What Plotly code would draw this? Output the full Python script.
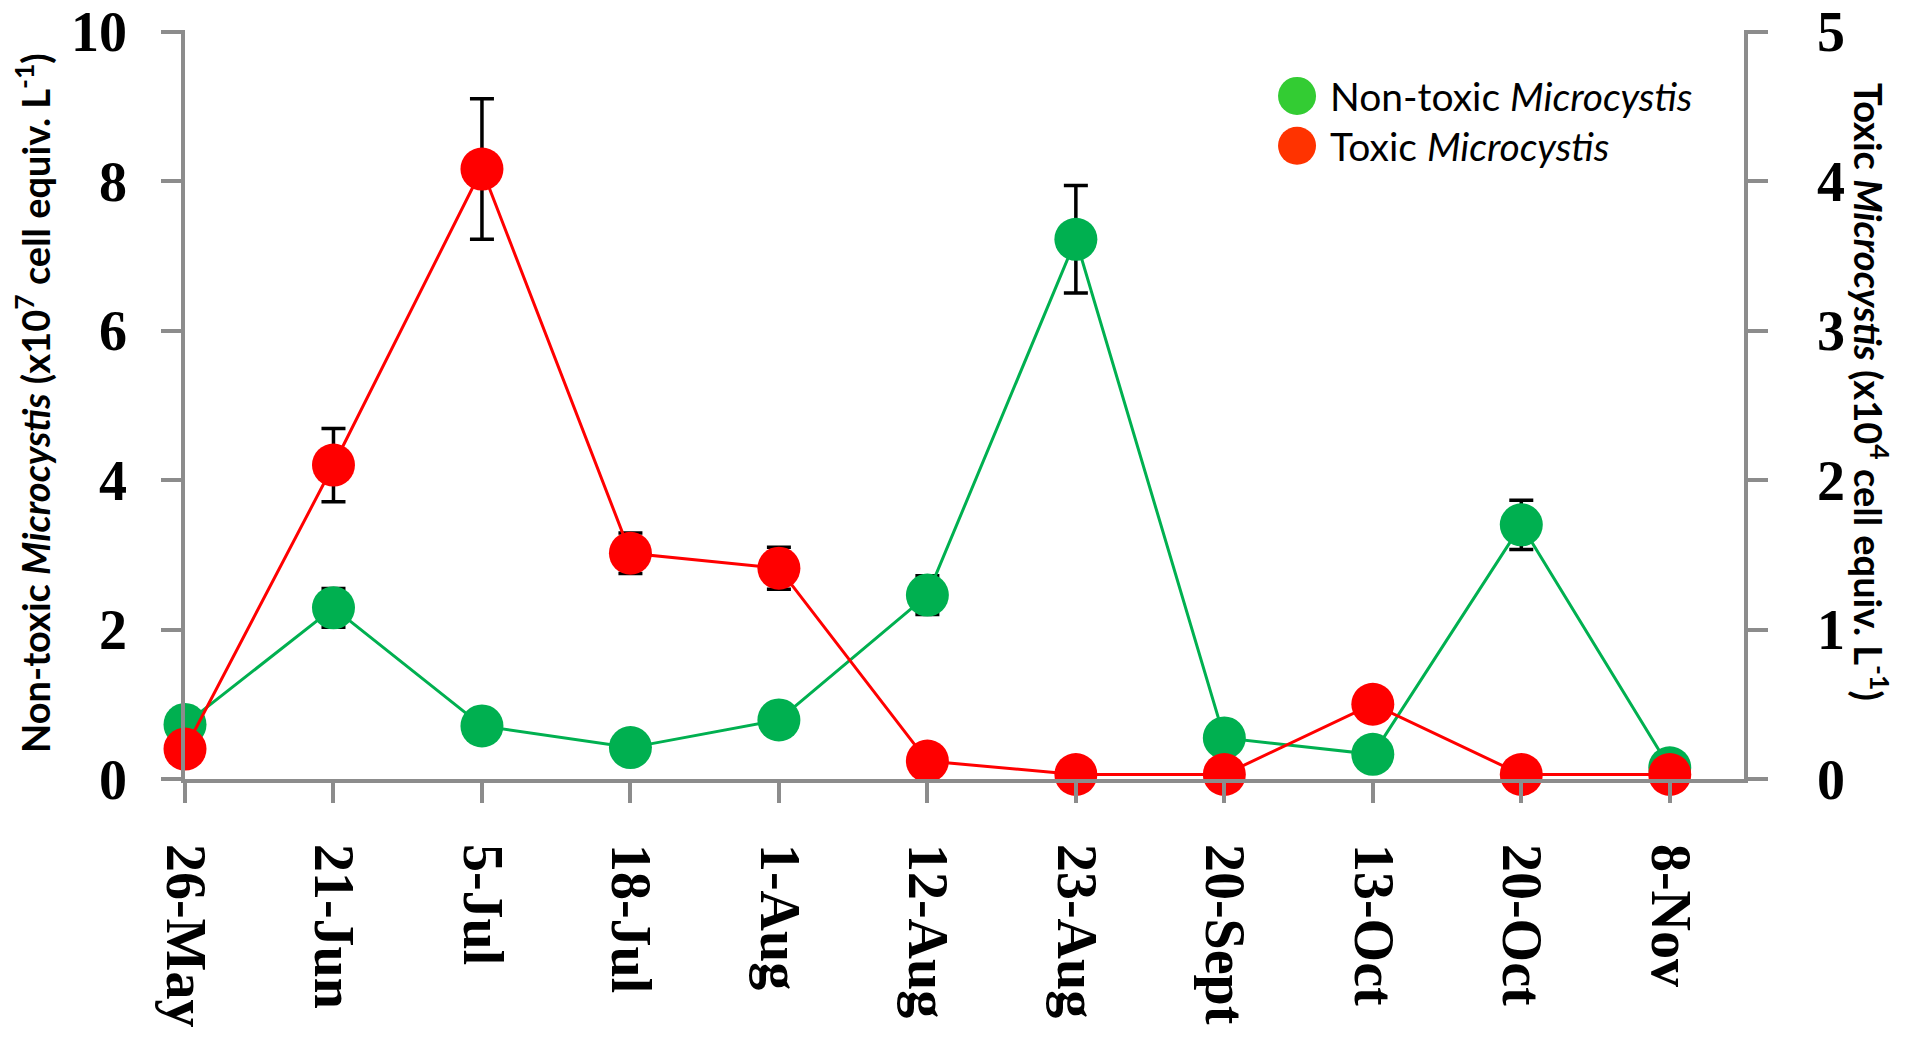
import plotly.graph_objects as go

dates = ["26-May", "21-Jun", "5-Jul", "18-Jul", "1-Aug", "12-Aug",
         "23-Aug", "20-Sept", "13-Oct", "20-Oct", "8-Nov"]
nontoxic = [0.73, 2.29, 0.71, 0.42, 0.79, 2.46, 7.22, 0.55, 0.33, 3.40, 0.15]
nontoxic_err = [0.0, 0.26, 0.0, 0.0, 0.0, 0.26, 0.72, 0.0, 0.0, 0.33, 0.0]
toxic = [0.20, 2.10, 4.08, 1.51, 1.41, 0.12, 0.03, 0.03, 0.50, 0.03, 0.03]
toxic_err = [0.0, 0.245, 0.47, 0.135, 0.14, 0.0, 0.0, 0.0, 0.0, 0.0, 0.0]
left_ticks = [0, 2, 4, 6, 8, 10]
right_ticks = [0, 1, 2, 3, 4, 5]

GREEN_LINE = "#00B050"
RED_LINE = "#FF0000"
AXIS = "#8C8C8C"
TICKFONT = dict(family="Liberation Serif, Times New Roman, serif", size=56,
                color="black", weight="bold")
LABELFONT = dict(family="Lato, Open Sans, sans-serif", size=38, color="black",
                 weight="bold")

fig = go.Figure()
fig.add_trace(go.Scatter(
    x=dates, y=nontoxic, mode="lines+markers", name="Non-toxic Microcystis",
    line=dict(color=GREEN_LINE, width=3),
    marker=dict(color=GREEN_LINE, size=43),
    error_y=dict(type="data", array=nontoxic_err, visible=True,
                 color="black", thickness=3.5, width=12),
    cliponaxis=False, showlegend=False, yaxis="y"))
fig.add_trace(go.Scatter(
    x=dates, y=toxic, mode="lines+markers", name="Toxic Microcystis",
    line=dict(color=RED_LINE, width=3),
    marker=dict(color=RED_LINE, size=43),
    error_y=dict(type="data", array=toxic_err, visible=True,
                 color="black", thickness=3.5, width=12),
    cliponaxis=False, showlegend=False, yaxis="y2"))

fig.update_layout(
    width=1908, height=1041,
    margin=dict(l=185, r=164, t=30, b=262),
    paper_bgcolor="white", plot_bgcolor="white",
    xaxis=dict(type="category", range=[0, 10.5], showgrid=False, zeroline=False,
               showline=True, linecolor=AXIS, linewidth=3.5, automargin=False,
               ticks="outside", ticklen=20, tickwidth=3.5, tickcolor=AXIS,
               tickangle=90, tickfont=TICKFONT, ticklabelstandoff=30),
    yaxis=dict(range=[0, 10.02], tickvals=left_ticks, showgrid=False, zeroline=False,
               showline=True, linecolor=AXIS, linewidth=3.5, automargin=False,
               ticks="outside", ticklen=20, tickwidth=3.5, tickcolor=AXIS,
               tickfont=TICKFONT, ticklabelstandoff=23),
    yaxis2=dict(range=[0, 5.01], tickvals=right_ticks, overlaying="y", side="right",
                showgrid=False, zeroline=False, automargin=False,
                showline=True, linecolor=AXIS, linewidth=3.5,
                ticks="outside", ticklen=20, tickwidth=3.5, tickcolor=AXIS,
                tickfont=TICKFONT, ticklabelstandoff=38),
)

annotations = [
    dict(text="Non-toxic <i>Microcystis</i> (x10<sup>7</sup> cell equiv. L<sup>-1</sup>)",
         xref="paper", yref="paper", x=-0.0975, y=0.502, textangle=-90,
         xanchor="center", yanchor="middle", showarrow=False, font=LABELFONT),
    dict(text="Toxic <i>Microcystis</i> (x10<sup>4</sup> cell equiv. L<sup>-1</sup>)",
         xref="paper", yref="paper", x=1.0815, y=0.5167, textangle=90,
         xanchor="center", yanchor="middle", showarrow=False, font=LABELFONT),
]
legend_items = [("Non-toxic <i>Microcystis</i>", "#33CC33", 0.912),
                ("Toxic <i>Microcystis</i>", "#FF3300", 0.8455)]
shapes = []
for txt, col, yy in legend_items:
    shapes.append(dict(type="circle", xref="paper", yref="paper",
                       xsizemode="pixel", ysizemode="pixel",
                       xanchor=0.7133, yanchor=yy, x0=-19, x1=19, y0=-19, y1=19,
                       fillcolor=col, line=dict(width=0)))
    annotations.append(dict(text=txt, xref="paper", yref="paper", x=0.7332, y=yy,
                            xanchor="left", yanchor="middle", showarrow=False,
                            font=dict(family="Lato, Open Sans, sans-serif",
                                      size=39, color="black")))
fig.update_layout(annotations=annotations, shapes=shapes)

fig.write_html("out.html")
